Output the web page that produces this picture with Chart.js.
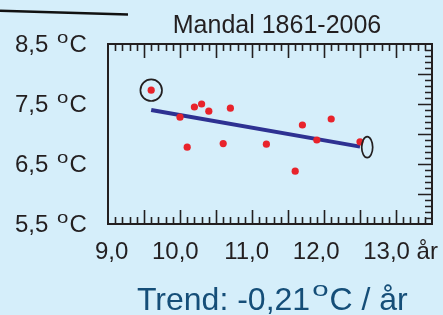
<!DOCTYPE html>
<html>
<head>
<meta charset="utf-8">
<script src="https://cdn.jsdelivr.net/npm/chart.js@4/dist/chart.umd.min.js"></script>
<style>
  body { margin: 0; background: #d5eefa; }
  canvas { display: block; }
</style>
</head>
<body>
<canvas id="chart" width="443" height="315"></canvas>
<script>
// mean annual temperature vs. year-ish axis, Mandal 1861-2006
const xValues = [9.6, 10.0, 10.1, 10.2, 10.3, 10.4, 10.6, 10.7, 11.2, 11.6, 11.7, 11.9, 12.1, 12.5];
const tempValues = [7.73, 7.28, 6.78, 7.45, 7.50, 7.38, 6.84, 7.43, 6.83, 6.38, 7.15, 6.90, 7.25, 6.87];

// trend line end points
const trendX = [9.6, 12.5];
const trendY = [7.40, 6.79];

// tick labels
const xTickValues = [9, 10, 11, 12, 13];
const xTickLabels = ['9,0', '10,0', '11,0', '12,0', '13,0'];
const yTickValues = [8.5, 7.5, 6.5, 5.5];
const yTickLabels = ['8,5', '7,5', '6,5', '5,5'];

// marked points (circle / ellipse)
const circleAt = [9.6, 7.73];
const ellipseAt = [12.6, 6.78];

const FONT = '"Liberation Sans", Arial, sans-serif';
const INK = '#231f20';

// draws "o" raised plus "C" after it, returns end x
function unitC(ctx, x, base, size, supSize, raise, stretch, color) {
  ctx.fillStyle = color;
  ctx.font = supSize + 'px ' + FONT;
  const ow = ctx.measureText('o').width * stretch;
  ctx.save();
  ctx.translate(x, base - raise);
  ctx.scale(stretch, 1);
  ctx.fillText('o', 0, 0);
  ctx.restore();
  ctx.font = size + 'px ' + FONT;
  ctx.fillText('C', x + ow + 1, base);
  return x + ow + 1 + ctx.measureText('C').width;
}

const decor = {
  id: 'decor',
  afterDatasetsDraw(chart) {
    const ctx = chart.ctx;
    const xs = chart.scales.x, ys = chart.scales.y, xl = chart.scales.xl;
    const a = chart.chartArea;
    ctx.save();

    // frame
    ctx.strokeStyle = INK;
    ctx.lineWidth = 2;
    ctx.strokeRect(a.left, a.top, a.right - a.left, a.bottom - a.top);

    // inside ticks, top + bottom
    ctx.lineWidth = 1.6;
    ctx.beginPath();
    for (let i = 91; i <= 134; i++) {
      const px = Math.round(xs.getPixelForValue(i / 10)) + 0.5;
      const len = i % 5 === 0 ? 14 : 7;
      ctx.moveTo(px, a.top); ctx.lineTo(px, a.top + len);
      ctx.moveTo(px, a.bottom); ctx.lineTo(px, a.bottom - len);
    }
    // right side ticks
    for (let i = 56; i <= 84; i++) {
      const py = Math.round(ys.getPixelForValue(i / 10)) + 0.5;
      const len = i % 5 === 0 ? 14 : 7;
      ctx.moveTo(a.right, py); ctx.lineTo(a.right - len, py);
    }
    ctx.stroke();

    // circle + ellipse marks
    ctx.lineWidth = 1.7;
    ctx.beginPath();
    ctx.arc(xs.getPixelForValue(circleAt[0]), ys.getPixelForValue(circleAt[1]), 10.8, 0, Math.PI * 2);
    ctx.stroke();
    ctx.beginPath();
    ctx.ellipse(xs.getPixelForValue(ellipseAt[0]), ys.getPixelForValue(ellipseAt[1]), 5.5, 10.5, 0, 0, Math.PI * 2);
    ctx.stroke();

    // y labels
    ctx.textAlign = 'left';
    ctx.textBaseline = 'alphabetic';
    yTickValues.forEach((v, i) => {
      const base = ys.getPixelForValue(v) + 8;
      ctx.fillStyle = INK;
      ctx.font = '24px ' + FONT;
      ctx.fillText(yTickLabels[i], 15, base);
      const w = ctx.measureText(yTickLabels[i] + ' ').width;
      unitC(ctx, 15 + w + 2, base, 24, 17, 9, 1.2, INK);
    });

    // x labels (right aligned on the label scale)
    ctx.font = '24px ' + FONT;
    ctx.fillStyle = INK;
    xTickValues.forEach((v, i) => {
      ctx.textAlign = 'right';
      const px = xl.getPixelForValue(v);
      ctx.fillText(xTickLabels[i], px, 259);
      if (i === xTickValues.length - 1) {
        ctx.textAlign = 'left';
        ctx.fillText(' år', px, 259);
      }
    });

    // title
    ctx.textAlign = 'center';
    ctx.font = '25px ' + FONT;
    ctx.fillText('Mandal 1861-2006', 277, 33);

    // trend text
    const tc = '#154e78';
    ctx.textAlign = 'left';
    ctx.fillStyle = tc;
    ctx.font = '32px ' + FONT;
    const t1 = 'Trend: -0,21';
    ctx.fillText(t1, 137, 310);
    let x = 137 + ctx.measureText(t1).width + 2;
    x = unitC(ctx, x, 310, 32, 21, 14, 1.4, tc);
    ctx.font = '32px ' + FONT;
    ctx.fillText(' / år', x, 310);

    // stray rule top-left
    ctx.strokeStyle = '#111';
    ctx.lineWidth = 2.5;
    ctx.beginPath();
    ctx.moveTo(0, 10.7);
    ctx.lineTo(128, 14.5);
    ctx.stroke();

    ctx.restore();
  }
};

new Chart(document.getElementById('chart'), {
  type: 'scatter',
  data: {
    datasets: [
      {
        label: 'Temperatur',
        data: xValues.map((x, i) => ({ x: x, y: tempValues[i] })),
        backgroundColor: '#e8232b',
        borderWidth: 0,
        pointRadius: 3.6
      },
      {
        type: 'line',
        label: 'Trend',
        data: trendX.map((x, i) => ({ x: x, y: trendY[i] })),
        borderColor: '#2e3192',
        borderWidth: 4,
        pointRadius: 0,
        fill: false
      }
    ]
  },
  options: {
    responsive: false,
    animation: false,
    layout: { padding: { left: 108, top: 44, right: 11, bottom: 91 } },
    plugins: { legend: { display: false }, tooltip: { enabled: false } },
    scales: {
      x: { type: 'linear', display: false, min: 9, max: 13.5 },
      xl: { type: 'linear', display: false, min: 8.712, max: 13.314 },
      y: { type: 'linear', display: false, min: 5.5, max: 8.5 }
    }
  },
  plugins: [decor]
});
</script>
</body>
</html>
